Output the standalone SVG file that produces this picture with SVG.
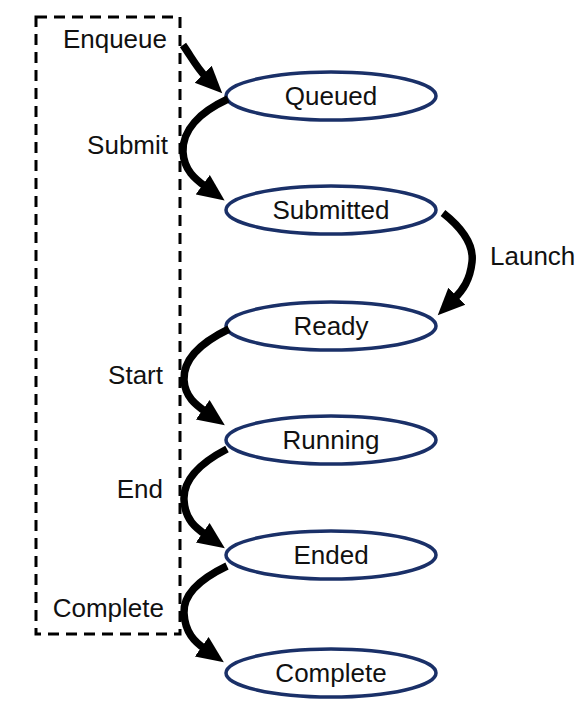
<svg xmlns="http://www.w3.org/2000/svg" width="588" height="712" viewBox="0 0 588 712">
<style>
.node ellipse{fill:#fff;stroke:#1a3068;stroke-width:3.5}
text{font-family:"Liberation Sans",Arial,sans-serif;font-size:26px;fill:#111}
.nl{text-anchor:middle}
.el{text-anchor:end}
.conn path{fill:none;stroke:#000;stroke-width:7.5}
</style>
<defs>
<marker id="ah" markerUnits="userSpaceOnUse" markerWidth="28" markerHeight="26" refX="4" refY="12" orient="auto" viewBox="0 0 28 24">
<path d="M0,0 L27,12 L0,24 z" fill="#000"/>
</marker>
</defs>
<rect x="36" y="17" width="144" height="617" fill="none" stroke="#000" stroke-width="3" stroke-dasharray="11,7"/>
<g id="node-queued" class="node"><ellipse cx="331" cy="96" rx="105" ry="24"/><text class="nl" x="331" y="105">Queued</text></g>
<g id="node-submitted" class="node"><ellipse cx="331" cy="210" rx="105" ry="24"/><text class="nl" x="331" y="219">Submitted</text></g>
<g id="node-ready" class="node"><ellipse cx="331" cy="326" rx="105" ry="24"/><text class="nl" x="331" y="335">Ready</text></g>
<g id="node-running" class="node"><ellipse cx="331" cy="440" rx="105" ry="24"/><text class="nl" x="331" y="449">Running</text></g>
<g id="node-ended" class="node"><ellipse cx="331" cy="555" rx="105" ry="24"/><text class="nl" x="331" y="564">Ended</text></g>
<g id="node-complete" class="node"><ellipse cx="331" cy="673" rx="105" ry="24"/><text class="nl" x="331" y="682">Complete</text></g>
<g id="connectors" class="conn">
<path d="M183,45 C192,58 197,68 206,77" marker-end="url(#ah)"/>
<path d="M228,99 C200,112 182,130 183,152 C184,170 195,179 206,187" marker-end="url(#ah)"/>
<path d="M443,213 C462,228 474,245 472,262 C470,280 463,290 454,299" marker-end="url(#ah)"/>
<path d="M229,329 C200,343 183,360 184,380 C185,397 196,405 206,412" marker-end="url(#ah)"/>
<path d="M227,449 C200,463 183,480 184,500 C185,520 196,528 206,535" marker-end="url(#ah)"/>
<path d="M227,566 C200,579 183,595 184,613 C185,633 195,642 205,649" marker-end="url(#ah)"/>
</g>
<g id="labels">
<text class="el" x="167" y="48">Enqueue</text>
<text class="el" x="168" y="154">Submit</text>
<text x="490" y="265">Launch</text>
<text class="el" x="163" y="384">Start</text>
<text class="el" x="163" y="498">End</text>
<text class="el" x="164" y="617">Complete</text>
</g>
</svg>
